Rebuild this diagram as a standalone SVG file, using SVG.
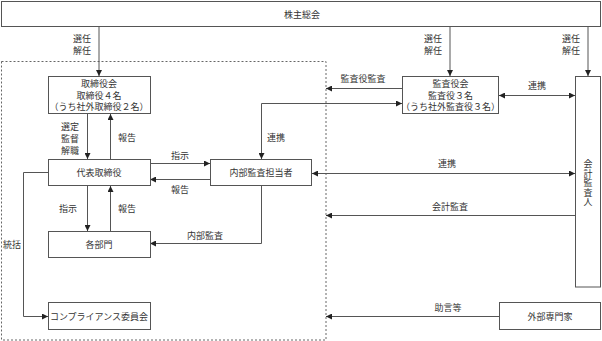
<svg xmlns="http://www.w3.org/2000/svg" width="602" height="341" viewBox="0 0 602 341">
<style>
.box{fill:#fff;stroke:#555;stroke-width:1}
.t{font-family:"Noto Sans CJK JP","Liberation Serif",sans-serif;font-size:9px;fill:#333;text-anchor:middle;dominant-baseline:central}
.v{font-family:"Noto Sans CJK JP","Liberation Serif",sans-serif;font-size:9px;fill:#333;text-anchor:middle;writing-mode:vertical-rl;letter-spacing:0.5px}
.c{fill:none;stroke:#555;stroke-width:1}
.a{marker-end:url(#ah)}
.d{marker-start:url(#ah);marker-end:url(#ah)}
</style>
<defs>
<marker id="ah" markerUnits="userSpaceOnUse" markerWidth="6" markerHeight="6" refX="6" refY="3" orient="auto-start-reverse">
<path d="M0,0 L6,3 L0,6 z" fill="#222"/>
</marker>
</defs>
<rect x="1.5" y="61.5" width="324.5" height="278.5" fill="none" stroke="#666" stroke-width="1" stroke-dasharray="2,2"/>
<g id="connectors">
<path class="c a" d="M99,27 V76"/>
<path class="c a" d="M450,27 V76"/>
<path class="c a" d="M588,27 V76"/>
<path class="c a" d="M402,88.5 H326"/>
<path class="c d" d="M499,95.5 H575"/>
<path class="c d" d="M261.5,159 V103.5 H402"/>
<path class="c a" d="M87.5,114 V159"/>
<path class="c a" d="M110.5,159 V114"/>
<path class="c a" d="M150,163.5 H210"/>
<path class="c a" d="M210,179.5 H150"/>
<path class="c d" d="M312,173.5 H575"/>
<path class="c a" d="M575,215.5 H326"/>
<path class="c a" d="M87.5,186 V231"/>
<path class="c a" d="M110.5,231 V186"/>
<path class="c a" d="M261.5,186 V243.5 H150"/>
<path class="c a" d="M48,172.5 H23.5 V316.5 H48"/>
<path class="c a" d="M499,316.5 H326"/>
</g>
<g id="labels">
<text class="t" x="82" y="38">選任</text>
<text class="t" x="82" y="50">解任</text>
<text class="t" x="433" y="38">選任</text>
<text class="t" x="433" y="50">解任</text>
<text class="t" x="571" y="38">選任</text>
<text class="t" x="571" y="50">解任</text>
<text class="t" x="363" y="78">監査役監査</text>
<text class="t" x="537" y="85">連携</text>
<text class="t" x="276" y="137">連携</text>
<text class="t" x="70" y="126">選定</text>
<text class="t" x="70" y="138">監督</text>
<text class="t" x="70" y="150">解職</text>
<text class="t" x="127" y="137">報告</text>
<text class="t" x="180" y="155">指示</text>
<text class="t" x="180" y="189">報告</text>
<text class="t" x="447" y="163">連携</text>
<text class="t" x="450" y="206">会計監査</text>
<text class="t" x="68" y="208">指示</text>
<text class="t" x="127" y="208">報告</text>
<text class="t" x="205" y="235">内部監査</text>
<text class="t" x="12" y="244">統括</text>
<text class="t" x="448" y="307">助言等</text>
</g>
<g id="n-shareholders">
<rect class="box" x="1.5" y="1.5" width="599" height="25"/>
<text class="t" x="302" y="14">株主総会</text>
</g>
<g id="n-board">
<rect class="box" x="48.5" y="76.5" width="102" height="37"/>
<text class="t" x="99" y="83.5">取締役会</text>
<text class="t" x="99" y="95">取締役４名</text>
<text class="t" x="99" y="106.5">（うち社外取締役２名）</text>
</g>
<g id="n-kansayaku">
<rect class="box" x="402.5" y="76.5" width="96" height="37"/>
<text class="t" x="450.5" y="83.5">監査役会</text>
<text class="t" x="450.5" y="95">監査役３名</text>
<text class="t" x="450.5" y="106.5">（うち社外監査役３名）</text>
</g>
<g id="n-auditor">
<rect class="box" x="575.5" y="76.5" width="25" height="210.5"/>
<text class="v" x="588" y="183">会計監査人</text>
</g>
<g id="n-president">
<rect class="box" x="48.5" y="159.5" width="102" height="26"/>
<text class="t" x="99" y="172.5">代表取締役</text>
</g>
<g id="n-internal">
<rect class="box" x="210.5" y="159.5" width="101" height="26"/>
<text class="t" x="261" y="172.5">内部監査担当者</text>
</g>
<g id="n-depts">
<rect class="box" x="48.5" y="231.5" width="102" height="26"/>
<text class="t" x="99" y="244.5">各部門</text>
</g>
<g id="n-compliance">
<rect class="box" x="48.5" y="302.5" width="102" height="27"/>
<text class="t" x="99" y="316">コンプライアンス委員会</text>
</g>
<g id="n-experts">
<rect class="box" x="499.5" y="302.5" width="101" height="27"/>
<text class="t" x="550" y="316">外部専門家</text>
</g>
</svg>
